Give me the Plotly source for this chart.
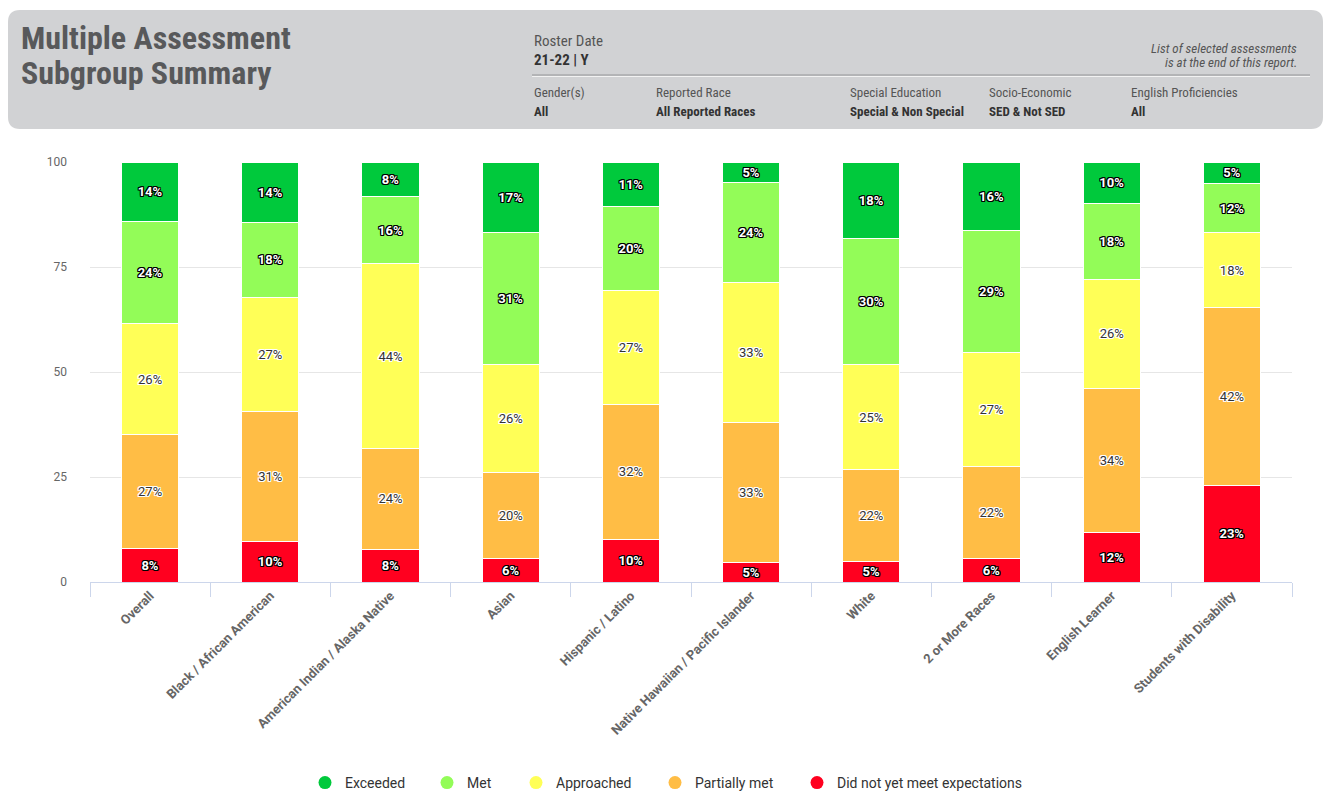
import plotly.graph_objects as go

categories = ["Overall", "Black / African American", "American Indian / Alaska Native", "Asian",
              "Hispanic / Latino", "Native Hawaiian / Pacific Islander", "White", "2 or More Races",
              "English Learner", "Students with Disability"]

did_not_meet = [7.9, 9.6, 7.8, 5.6, 10.2, 4.6, 4.8, 5.6, 11.8, 22.9]
partially_met = [27.2, 31.0, 24.0, 20.4, 32.0, 33.4, 21.9, 22.0, 34.3, 42.4]
approached = [26.4, 27.1, 44.0, 25.8, 27.1, 33.2, 25.1, 27.0, 25.9, 17.8]
met = [24.4, 18.0, 16.0, 31.4, 20.1, 24.0, 29.9, 29.0, 18.2, 11.8]
exceeded = [14.1, 14.3, 8.2, 16.8, 10.6, 4.8, 18.3, 16.4, 9.8, 5.1]

y_ticks = [0, 25, 50, 75, 100]

series_names = ["Did not yet meet expectations", "Partially met", "Approached", "Met", "Exceeded"]
series_values = [did_not_meet, partially_met, approached, met, exceeded]
series_colors = ["#ff001f", "#ffbd45", "#ffff57", "#93fc58", "#00c93c"]
light_text = [True, False, False, True, True]

W, H = 1325, 793
L, R, T, B = 90, 33, 162, 211
PW, PH = W - L - R, H - T - B


def px(x):
    return (x - L) / PW


def py(y):
    return (H - B - y) / PH


COND = "Liberation Sans Narrow, Roboto Condensed, DejaVu Sans Condensed, Arial Narrow, sans-serif"
BLACK_OUTLINE = "-1px -1px 0 #000, 1px -1px 0 #000, -1px 1px 0 #000, 1px 1px 0 #000, 0 1px 0 #000, 0 -1px 0 #000, 1px 0 0 #000, -1px 0 0 #000"
WHITE_OUTLINE = "-1px -1px 0 #fff, 1px -1px 0 #fff, -1px 1px 0 #fff, 1px 1px 0 #fff, 0 1px 0 #fff, 0 -1px 0 #fff, 1px 0 0 #fff, -1px 0 0 #fff"

fig = go.Figure()

for name, vals, col, lt in zip(series_names, series_values, series_colors, light_text):
    fig.add_trace(go.Bar(
        x=categories, y=vals, name=name, showlegend=False,
        marker=dict(color=col, line=dict(color="#ffffff", width=1)),
        texttemplate="%{y:.0f}%", textposition="inside", insidetextanchor="middle",
        textangle=0, constraintext="none",
        textfont=dict(family="Roboto, sans-serif", size=13,
                      color="#ffffff" if lt else "#333333",
                      shadow=BLACK_OUTLINE if lt else WHITE_OUTLINE,
                      weight="bold" if lt else "normal"),
        hovertemplate="%{x}<br>" + name + ": %{y:.0f}%<extra></extra>",
    ))

# legend entries (circle markers), one legend box per entry to match the spacing
legend_ids = ["legend", "legend2", "legend3", "legend4", "legend5"]
legend_circle_x = [326, 448, 537, 676, 818]
for lid, name, col in zip(legend_ids, series_names[::-1], series_colors[::-1]):
    fig.add_trace(go.Scatter(
        x=[categories[0]], y=[None], mode="markers", name=name, legend=lid,
        marker=dict(color=col, size=13, symbol="circle"), showlegend=True, hoverinfo="skip",
    ))

shapes = []
x0, x1 = px(8), px(1323)
y0, y1 = py(10), py(129)
rx, ry = 12 / PW, 12 / PH
path = (f"M {x0+rx},{y0} L {x1-rx},{y0} Q {x1},{y0} {x1},{y0-ry} "
        f"L {x1},{y1+ry} Q {x1},{y1} {x1-rx},{y1} L {x0+rx},{y1} "
        f"Q {x0},{y1} {x0},{y1+ry} L {x0},{y0-ry} Q {x0},{y0} {x0+rx},{y0} Z")
shapes.append(dict(type="path", path=path, xref="paper", yref="paper",
                   fillcolor="#d1d2d4", line=dict(width=0), layer="below"))
shapes.append(dict(type="line", xref="paper", yref="paper", x0=px(532), x1=px(1310),
                   y0=py(75), y1=py(75), line=dict(color="#a9aaac", width=1.5)))
shapes.append(dict(type="line", xref="paper", yref="paper", x0=px(532), x1=px(1310),
                   y0=py(76.5), y1=py(76.5), line=dict(color="#f2f2f2", width=1)))

annotations = []


def ann(text, x, y, size, color, bold=False, italic=False, family=COND, xanchor="left"):
    annotations.append(dict(
        text=text, x=px(x), y=py(y), xref="paper", yref="paper", showarrow=False,
        xanchor=xanchor, yanchor="middle", align=xanchor,
        font=dict(family=family, size=size, color=color,
                  weight="bold" if bold else "normal",
                  style="italic" if italic else "normal"),
    ))


ann("Multiple Assessment", 19, 38, 32, "#58595b", bold=True)
ann("Subgroup Summary", 19, 73, 32, "#58595b", bold=True)
ann("Roster Date", 532, 41, 15, "#555555")
ann("21-22 | Y", 532, 60, 15, "#333333", bold=True)
ann("List of selected assessments", 1299, 48, 13, "#555555", italic=True, xanchor="right")
ann("is at the end of this report.", 1299, 63, 13, "#555555", italic=True, xanchor="right")

fields = [("Gender(s)", "All", 532), ("Reported Race", "All Reported Races", 654),
          ("Special Education", "Special & Non Special", 848), ("Socio-Economic", "SED & Not SED", 987),
          ("English Proficiencies", "All", 1129)]
for lab, val, xx in fields:
    ann(lab, xx, 93, 13, "#555555")
    ann(val, xx, 111, 13, "#333333", bold=True)

legend_layouts = {}
for lid, cx in zip(legend_ids, legend_circle_x):
    legend_layouts[lid] = dict(
        orientation="h", x=px(cx - 21), xanchor="left", y=py(783), yanchor="middle",
        font=dict(family="Roboto, sans-serif", size=14, color="#333333"),
        bgcolor="rgba(0,0,0,0)", itemsizing="trace", itemclick=False, itemdoubleclick=False,
    )

fig.update_layout(
    width=W, height=H,
    margin=dict(l=L, r=R, t=T, b=B, pad=0, autoexpand=False),
    barmode="stack", bargap=0.525,
    paper_bgcolor="#ffffff", plot_bgcolor="#ffffff",
    font=dict(family="Roboto, sans-serif", color="#333333"),
    shapes=shapes, annotations=annotations,
    showlegend=True,
    xaxis=dict(type="category", categoryorder="array", categoryarray=categories,
               range=[-0.5, len(categories) - 0.5],
               tickangle=-45, showgrid=False, showline=True, linecolor="#ccd6eb", linewidth=1,
               ticks="outside", tickson="boundaries", ticklen=14, tickcolor="#ccd6eb",
               tickfont=dict(family="Roboto, sans-serif", size=13, color="#666666", weight="bold"),
               automargin=False, fixedrange=True),
    yaxis=dict(range=[0, 100], tickvals=y_ticks, showgrid=True, gridcolor="#e6e6e6", gridwidth=1,
               zeroline=False, showline=False, ticks="", ticklabelstandoff=22,
               tickfont=dict(family="Roboto, sans-serif", size=12, color="#666666"),
               automargin=False, fixedrange=True),
    hovermode="closest",
    **legend_layouts,
)

fig.write_html("out.html", config={"displayModeBar": False},
               post_script="document.body.style.margin='0';document.body.style.overflow='hidden';")
